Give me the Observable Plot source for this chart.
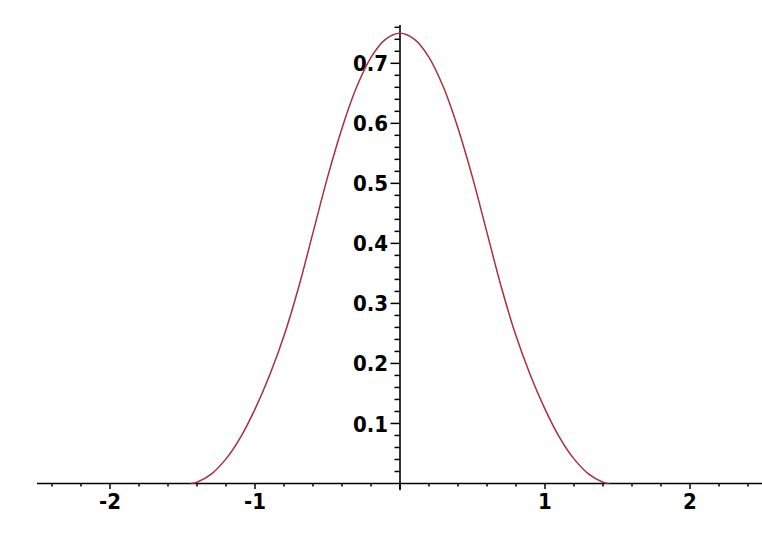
<!DOCTYPE html>
<html>
<head>
<meta charset="utf-8">
<script src="https://cdn.jsdelivr.net/npm/d3@7"></script>
<script src="https://cdn.jsdelivr.net/npm/@observablehq/plot@0.6"></script>
<style>
  html, body { margin: 0; padding: 0; background: #ffffff; }
  #chart svg { display: block; }
</style>
</head>
<body>
<div id="chart"></div>
<script>
// Curve values (symmetric bump, zero beyond about ±1.44)
const curveX = [-1.44, -1.4, -1.3, -1.2, -1.1, -1.0, -0.9, -0.8, -0.7, -0.6, -0.5, -0.4, -0.3, -0.2, -0.1,
                0, 0.1, 0.2, 0.3, 0.4, 0.5, 0.6, 0.7, 0.8, 0.9, 1.0, 1.1, 1.2, 1.3, 1.4, 1.44];
const curveY = [0, 0.002, 0.016, 0.041, 0.077, 0.124, 0.180, 0.246, 0.326, 0.418, 0.510, 0.592, 0.660, 0.710, 0.740,
                0.750, 0.740, 0.710, 0.660, 0.592, 0.510, 0.418, 0.326, 0.246, 0.180, 0.124, 0.077, 0.041, 0.016, 0.002, 0];

// Axis extents and ticks
const xExtent = [-2.5, 2.5];
const yExtent = [-0.012, 0.763];
const xMajorTicks = [-2, -1, 0, 1, 2];
const xTickValues = [-2, -1, 1, 2];
const xTickLabels = ["-2", "-1", "1", "2"];
const xMinorTicks = [-2.4, -2.2, -1.8, -1.6, -1.4, -1.2, -0.8, -0.6, -0.4, -0.2,
                     0.2, 0.4, 0.6, 0.8, 1.2, 1.4, 1.6, 1.8, 2.2, 2.4];
const yTickValues = [0.1, 0.2, 0.3, 0.4, 0.5, 0.6, 0.7];
const yTickLabels = ["0.1", "0.2", "0.3", "0.4", "0.5", "0.6", "0.7"];
const yMinorTicks = d3.range(1, 39).map(i => +(i * 0.02).toFixed(2)).filter(v => Math.round(v * 100) % 10 !== 0);

const curve = curveX.map((x, i) => ({x, y: curveY[i]}));
const xLabels = xTickValues.map((v, i) => ({v, label: xTickLabels[i]}));
const yLabels = yTickValues.map((v, i) => ({v, label: yTickLabels[i]}));

const fontFamily = "'DejaVu Sans Condensed', 'Liberation Sans', Arial, sans-serif";

const chart = Plot.plot({
  width: 762,
  height: 534,
  marginLeft: 37,
  marginRight: 0,
  marginTop: 25,
  marginBottom: 51,
  style: {background: "#ffffff", fontFamily},
  x: {domain: xExtent, axis: null},
  y: {domain: [0, yExtent[1]], axis: null},
  marks: [
    // axis lines
    Plot.ruleY([0], {x1: xExtent[0], x2: xExtent[1], stroke: "#000", strokeWidth: 1.6}),
    Plot.ruleX([0], {y1: yExtent[0], y2: yExtent[1], stroke: "#000", strokeWidth: 1.6}),
    // x ticks (below the axis)
    Plot.ruleX(xMajorTicks, {x: d => d, y1: 0, y2: 0, insetBottom: -6, stroke: "#000", strokeWidth: 1.5}),
    Plot.ruleX(xMinorTicks, {x: d => d, y1: 0, y2: 0, insetBottom: -3.5, stroke: "#000", strokeWidth: 1.5}),
    // y ticks (left of the axis)
    Plot.ruleY(yTickValues, {y: d => d, x1: 0, x2: 0, insetLeft: -9, stroke: "#000", strokeWidth: 1.5}),
    Plot.ruleY(yMinorTicks, {y: d => d, x1: 0, x2: 0, insetLeft: -5, stroke: "#000", strokeWidth: 1.5}),
    // tick labels
    Plot.text(xLabels, {x: "v", y: () => 0, text: "label", lineAnchor: "top", dy: 10,
      fontSize: 22, fontWeight: "bold", fill: "#000", fontFamily}),
    Plot.text(yLabels, {x: () => 0, y: "v", text: "label", textAnchor: "end", dx: -12, dy: 1,
      fontSize: 22, fontWeight: "bold", fill: "#000", fontFamily}),
    // the curve
    Plot.line(curve, {x: "x", y: "y", curve: "catmull-rom", stroke: "#a8303c", strokeWidth: 1.5})
  ]
});

document.getElementById("chart").appendChild(chart);
</script>
</body>
</html>
